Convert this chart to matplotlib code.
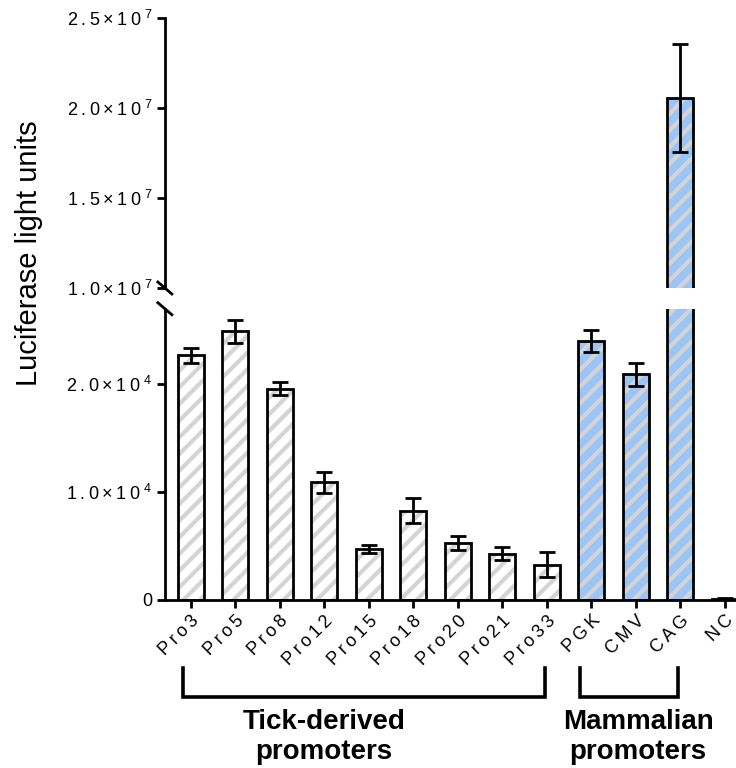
import matplotlib
matplotlib.use('Agg')
import matplotlib.pyplot as plt
import numpy as np

plt.rcParams.update({
    'font.family': ['Liberation Sans', 'DejaVu Sans'],
    'mathtext.fontset': 'custom',
    'mathtext.rm': 'Liberation Sans',
    'mathtext.it': 'Liberation Sans:italic',
    'mathtext.bf': 'Liberation Sans:bold',
    'hatch.linewidth': 3.0,
    'axes.linewidth': 2.0,
    'xtick.major.width': 2.0,
    'ytick.major.width': 2.0,
    'xtick.major.size': 6,
    'ytick.major.size': 6,
})

TS = '\u2009'  # thin space, the original uses letter-spaced labels


def spaced(s):
    return TS.join(s)


# --- data ---
labels = ['Pro3', 'Pro5', 'Pro8', 'Pro12', 'Pro15', 'Pro18', 'Pro20', 'Pro21',
          'Pro33', 'PGK', 'CMV', 'CAG', 'NC']
means = [22700, 24900, 19600, 10900, 4740, 8280, 5270, 4280, 3260,
         24000, 20900, 20560000, 60]
errs = [700, 1100, 600, 1000, 390, 1200, 620, 590, 1160,
        1000, 1100, 3000000, 80]
groups = ['tick'] * 9 + ['mammal'] * 3 + ['nc']

low_ticks = [0, 10000, 20000]
low_mant = ['1.0', '2.0']
high_ticks = [1.0e7, 1.5e7, 2.0e7, 2.5e7]
high_mant = ['1.0', '1.5', '2.0', '2.5']

C_GREY = '#d4d4d4'
C_BLUE = '#9cc5f7'

fig = plt.figure(figsize=(7.36, 7.68), dpi=100)
ax_lo = fig.add_axes([0.224, 0.219, 0.776, 0.379])
ax_hi = fig.add_axes([0.224, 0.625, 0.776, 0.352])

x = np.arange(len(labels))
face = [C_BLUE if g == 'mammal' else 'white' for g in groups]
W = 0.58

for ax in (ax_lo, ax_hi):
    ax.bar(x, means, W, color=face, edgecolor=C_GREY, hatch='//', linewidth=0, zorder=1)
    ax.bar(x, means, W, color='none', edgecolor='black', linewidth=2.0, zorder=2)
    ax.errorbar(x, means, yerr=errs, fmt='none', ecolor='black', elinewidth=2.0,
                capsize=5.5, capthick=2.0, zorder=3)
    ax.set_xlim(-0.58, 12.25)
    for s in ('top', 'right'):
        ax.spines[s].set_visible(False)
    ax.tick_params(labelsize=13, pad=3)

ax_lo.set_ylim(0, 27000)
ax_lo.set_yticks(low_ticks)
ax_lo.set_yticklabels(['0'] + [spaced(m + '×10') + TS + '$^{4}$' for m in low_mant])
ax_lo.set_xticks(x)
ax_lo.set_xticklabels([spaced(s) for s in labels], rotation=45, ha='right',
                      rotation_mode='anchor', fontsize=13)

ax_hi.set_ylim(1.0e7, 2.5e7)
ax_hi.set_yticks(high_ticks)
ax_hi.set_yticklabels([spaced(m + '×10') + TS + '$^{7}$' for m in high_mant])
ax_hi.spines['bottom'].set_visible(False)
ax_hi.set_xticks([])

# break marks on the y axis
kw = dict(color='black', linewidth=2.0, clip_on=False)
for ax, yy in ((ax_hi, 0.0), (ax_lo, 1.0)):
    tr = ax.transAxes
    dx = 7 / (0.776 * 736)
    dy = 6 / (ax.get_position().height * 768)
    ax.plot([-dx, dx], [yy + dy, yy - dy], transform=tr, **kw)

fig.text(0.04, 0.67, 'Luciferase light units', rotation=90, fontsize=21,
         ha='center', va='center')

# group brackets
tr = ax_lo.get_xaxis_transform()
y_top, y_bot = -0.234, -0.333
for x0, x1 in ((-0.17, 7.97), (8.75, 10.95)):
    ax_lo.plot([x0, x0, x1, x1], [y_top, y_bot, y_bot, y_top], transform=tr,
               color='black', linewidth=2.6, clip_on=False, solid_joinstyle='miter')
ax_lo.text(3.0, -0.375, 'Tick-derived\npromoters', transform=tr, ha='center',
           va='top', fontsize=20, fontweight='bold', linespacing=1.2)
ax_lo.text(10.05, -0.375, 'Mammalian\npromoters', transform=tr, ha='center',
           va='top', fontsize=20, fontweight='bold', linespacing=1.2)

fig.savefig('out.png', dpi=100)
